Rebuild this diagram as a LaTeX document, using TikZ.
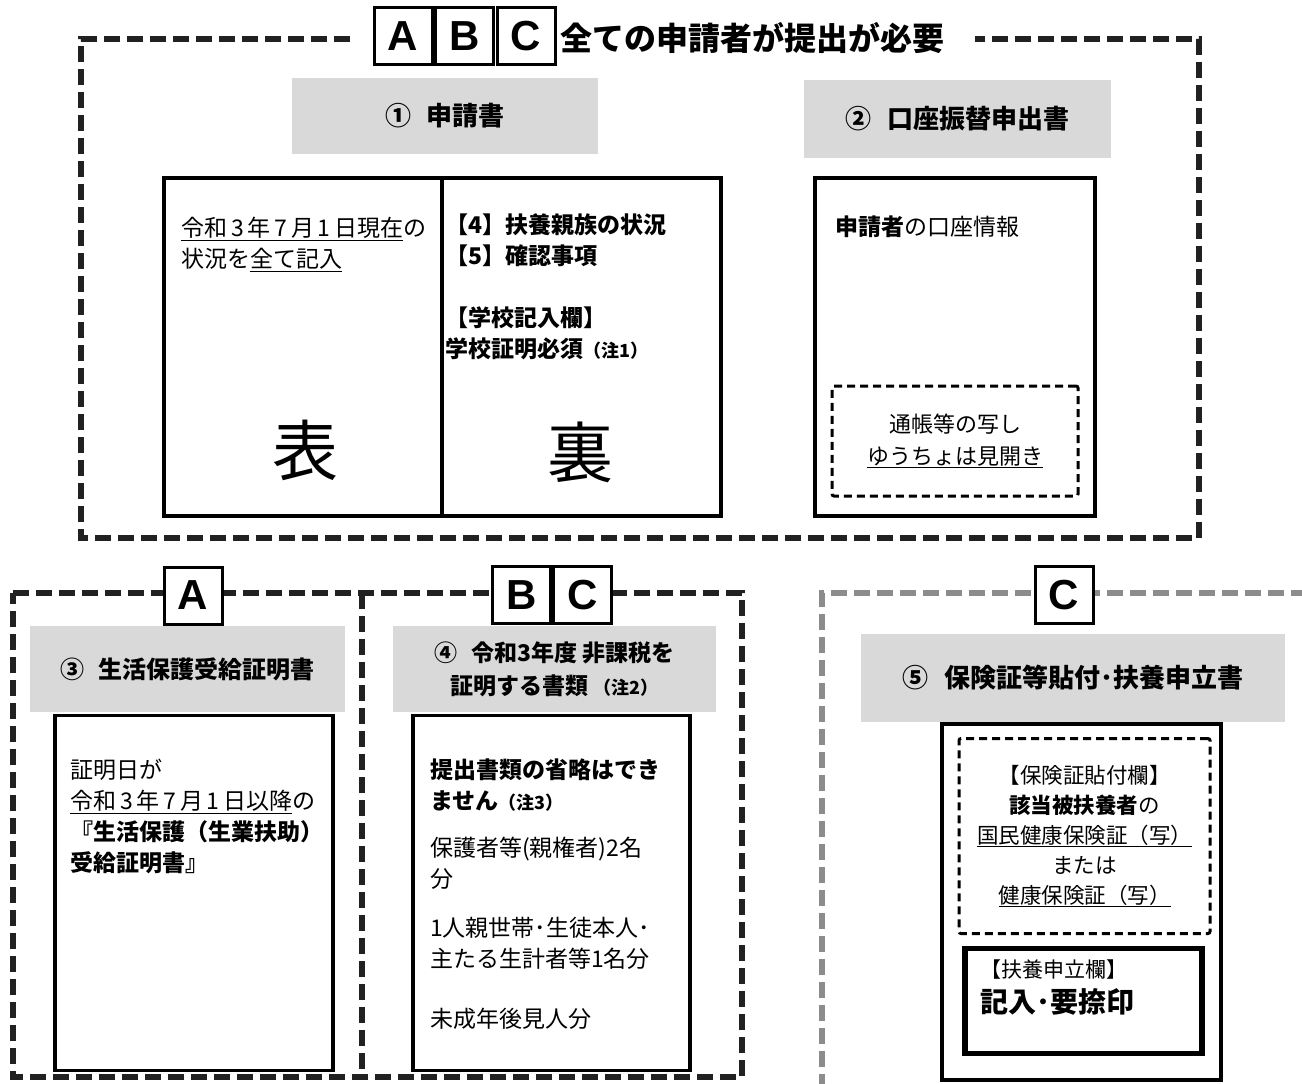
\documentclass[tikz,border=0pt]{standalone}
\usepackage{fontspec}
\setmainfont{Noto Sans CJK JP}
\newfontfamily\tagfont{Liberation Sans}
\usetikzlibrary{positioning}

\begin{document}
\begin{tikzpicture}[x=1pt,y=-1pt,
    groupline/.style={draw=black!87, line width=5.5pt, dash pattern=on 16pt off 7pt},
    grayhead/.style={fill=black!15, inner sep=0pt, align=center, font=\fontsize{26}{33}\selectfont\bfseries},
    sheet/.style={draw, line width=3.2pt, inner sep=0pt},
    tagbox/.style={draw, line width=3pt, fill=white, minimum width=58pt, minimum height=57pt, inner sep=0pt, font=\tagfont\fontsize{42}{42}\selectfont\bfseries},
    bodytext/.style={anchor=north west, align=left, inner sep=0pt, font=\fontsize{23}{31}\selectfont},
    bigchar/.style={inner sep=0pt, font=\fontsize{66}{66}\selectfont}]
\useasboundingbox (0,0) rectangle (1302,1084);

% --- A B C : everyone ---
\draw[groupline] (350,39) -- (81,39) -- (81,538) -- (1199,538) -- (1199,39) -- (975,39);
\node[tagbox] (tagA) at (403,36) {A};
\node[tagbox] (tagB) at (464.5,36) {B};
\node[tagbox] (tagC) at (526,36) {C};
\node[anchor=west, inner sep=0pt, font=\fontsize{32}{32}\selectfont\bfseries] (title) at (560,38) {全ての申請者が提出が必要};

\node[grayhead, minimum width=306pt, minimum height=76pt] (head1) at (445,116) {①\hspace{0.6em}申請書};
\node[grayhead, minimum width=307pt, minimum height=78pt] (head2) at (957.5,119) {②\hspace{0.6em}口座振替申出書};

\node[sheet, minimum width=557pt, minimum height=338pt] (form1) at (442.5,347) {};
\draw[line width=3.2pt] (442,178) -- (442,516);
\node[bodytext] (front) at (181,217) {\underline{令和\,3\,年\,7\,月\,1\,日現在}の\\状況を\underline{全て記入}};
\node[bodytext, font=\fontsize{23}{31}\selectfont\bfseries] (back) at (445,214)
  {【4】扶養親族の状況\\【5】確認事項\\[31pt]【学校記入欄】\\学校証明必須{\fontsize{18}{18}\selectfont（注1）}};
\node[bigchar] (omote) at (305,450) {表};
\node[bigchar] (ura) at (580,452) {裏};

\node[sheet, minimum width=280pt, minimum height=338pt] (form2) at (955,347) {};
\node[bodytext] (account) at (835,216) {{\bfseries 申請者}の口座情報};
\node[draw, line width=3pt, dash pattern=on 8pt off 5pt, rounded corners=2pt, minimum width=246pt, minimum height=110pt,
      align=center, inner sep=0pt, font=\fontsize{22}{32}\selectfont] (passbook) at (955,441)
  {通帳等の写し\\\underline{ゆうちょは見開き}};

% --- A : welfare ---
\draw[groupline] (13,593) -- (742,593) -- (742,1077) -- (13,1077) -- cycle;
\draw[groupline] (362,593) -- (362,1077);
\node[tagbox] (tagA2) at (193,595.5) {A};
\node[tagbox] (tagB2) at (521.5,595) {B};
\node[tagbox] (tagC2) at (582.5,595) {C};

\node[grayhead, minimum width=315pt, minimum height=86pt, font=\fontsize{24}{33}\selectfont\bfseries] (head3) at (187.5,669)
  {③\hspace{0.6em}生活保護受給証明書};
\node[grayhead, minimum width=323pt, minimum height=86pt, font=\fontsize{23}{33}\selectfont\bfseries] (head4) at (554.5,669)
  {④\hspace{0.6em}令和3年度 非課税を\\証明する書類 {\fontsize{18}{18}\selectfont（注2）}};

\node[sheet, minimum width=278pt, minimum height=355pt] (form3) at (194,893) {};
\node[bodytext] (welfare) at (70,759)
  {証明日が\\\underline{令和\,3\,年\,7\,月\,1\,日以降}の\\{\bfseries 『生活保護（生業扶助）}\\{\bfseries 受給証明書』}};

\node[sheet, minimum width=277pt, minimum height=355pt] (form4) at (551.5,893) {};
\node[bodytext] (taxfree) at (430,759)
  {{\bfseries 提出書類の省略はでき}\\{\bfseries ません}{\fontsize{18}{18}\selectfont\bfseries（注3）}\\[16pt]
   保護者等(親権者)2名\\分\\[18pt]1人親世帯･生徒本人･\\主たる生計者等1名分\\[29pt]未成年後見人分};

% --- C : insurance ---
\draw[groupline, draw=black!45] (822,1090) -- (822,593) -- (1310,593);
\node[tagbox] (tagC3) at (1064,595) {C};
\node[grayhead, minimum width=424pt, minimum height=88pt] (head5) at (1073,678)
  {⑤\hspace{0.6em}保険証等貼付･扶養申立書};

\node[sheet, minimum width=279pt, minimum height=356pt] (form5) at (1081.5,902) {};
\node[draw, line width=3pt, dash pattern=on 8pt off 5pt, rounded corners=2pt, minimum width=251pt, minimum height=195pt,
      align=center, inner sep=0pt, font=\fontsize{21.5}{30}\selectfont] (insurance) at (1084.5,836)
  {【保険証貼付欄】\\{\bfseries 該当被扶養者}の\\\underline{国民健康保険証（写）}\\または\\\underline{健康保険証（写）}};
\node[draw, line width=5.5pt, minimum width=237pt, minimum height=105pt, inner sep=0pt] (declare) at (1083.5,1001) {};
\node[bodytext, font=\fontsize{21}{35}\selectfont] (declaretext) at (980,960)
  {【扶養申立欄】\\{\fontsize{28}{28}\selectfont\bfseries 記入･要捺印}};
\end{tikzpicture}
\end{document}
